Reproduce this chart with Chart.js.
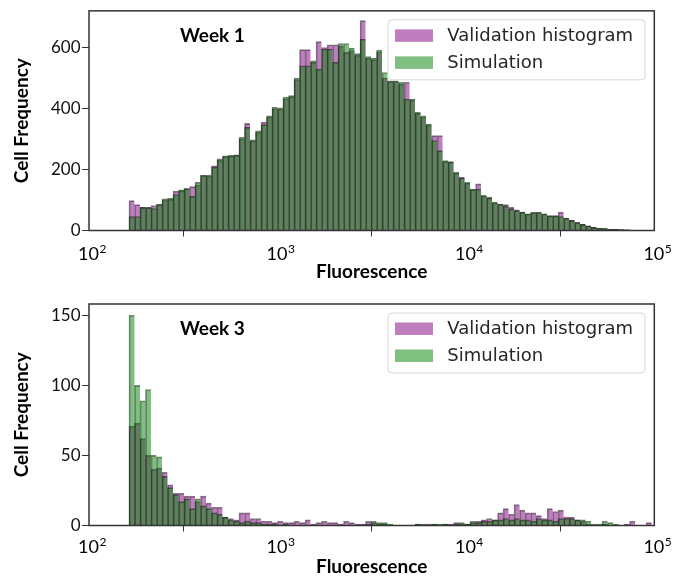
<!DOCTYPE html>
<html><head><meta charset="utf-8">
<script src="https://cdn.jsdelivr.net/npm/chart.js@4.4.1/dist/chart.umd.min.js"></script>
<style>
html,body{margin:0;padding:0;background:#fff;width:682px;height:581px;overflow:hidden;}
.wrap{position:absolute;left:0;width:682px;}
canvas{display:block;}
</style></head><body>
<div class="wrap" style="top:0;height:290px"><canvas id="c1" width="682" height="290"></canvas></div>
<div class="wrap" style="top:290px;height:291px"><canvas id="c2" width="682" height="291"></canvas></div>
<script>
// ---- data ----
const binLowEdge = 163;        // fluorescence at lower edge of first histogram bin
const binsPerDecade = 34.25;   // log-spaced bins
const binCount = 95;
const xTickValues = [100, 1000, 10000, 100000];
const xTickExponents = ['2', '3', '4', '5'];
const seriesNames = ['Validation histogram', 'Simulation'];
const panelTitles = ['Week 1', 'Week 3'];
const week1YTicks = [0, 200, 400, 600];
const week3YTicks = [0, 50, 100, 150];

const week1Validation = [98,85,76,75,82,85,100,102,129,130,
  136,144,150,180,178,212,230,242,244,246,
  300,351,294,322,355,372,400,398,432,438,
  495,593,593,551,619,600,609,609,605,584,
  590,575,688,565,560,585,500,488,488,480,
  486,428,385,372,346,311,311,226,224,189,
  175,155,134,153,113,109,91,86,85,76,
  68,60,54,58,59,54,48,48,60,40,
  33,26,20,15,10,7,6,4,4,3,
  2,0,0,0,0];
const week1Simulation = [46,46,76,76,72,86,104,106,118,133,
  138,112,158,182,182,208,235,245,246,248,
  305,338,297,327,347,376,404,402,437,442,
  500,540,540,556,529,595,595,551,613,613,
  598,580,627,570,565,591,518,491,491,486,
  431,431,387,376,349,295,262,229,226,191,
  172,158,136,136,115,107,93,87,80,71,
  65,60,55,60,60,55,49,49,46,41,
  33,27,20,15,11,7,7,4,4,3,
  2,1,0,0,0];
const week3Validation = [71,73,62,50,40,41,38,29,23,23,
  21,21,17,21,16,13,13,6,5,4,
  9,9,5,5,3,3,2,3,2,2,
  3,2,4,1,2,3,2,2,1,3,
  2,1,1,3,2,1,1,0,0,0,
  0,0,1,0,1,1,0,1,1,2,
  1,1,2,3,4,5,4,9,12,8,
  15,11,9,9,7,5,12,10,11,6,
  6,4,3,1,0,0,1,0,0,0,
  1,3,0,0,2];
const week3Simulation = [150,100,89,97,50,49,35,27,22,17,
  19,12,19,14,12,9,8,6,4,3,
  2,3,2,2,1,1,1,0,1,0,
  0,0,0,0,0,0,0,0,0,0,
  0,0,0,1,3,2,2,1,0,0,
  0,0,1,1,0,1,1,1,0,1,
  2,1,3,2,3,3,4,4,5,4,
  5,4,4,3,5,4,4,3,5,5,
  5,4,4,3,1,1,3,2,1,0,
  0,0,0,0,0];

// bin centres (fluorescence values) of the log-spaced histogram
const binCenters = Array.from({length: binCount}, (_, i) => binLowEdge * Math.pow(10, (i + 0.5) / binsPerDecade));

const FONT = 'Lato, "DejaVu Sans", sans-serif';

const decor = {
  id: 'decor',
  afterDraw(chart, args, o) {
    const {ctx, chartArea: a, scales} = chart;
    ctx.save();
    // frame (spines)
    ctx.strokeStyle = '#333';
    ctx.lineWidth = 1.5;
    ctx.strokeRect(a.left, a.top, a.right - a.left, a.bottom - a.top);
    // panel title
    ctx.fillStyle = '#000';
    ctx.font = 'bold 19px ' + FONT;
    ctx.textAlign = 'left';
    ctx.textBaseline = 'middle';
    ctx.fillText(o.title, a.left + 91, a.top + 25);
    // legend box
    const bx = a.right - 266.3, by = a.top + 9, bw = 257, bh = 60, r = 4;
    ctx.beginPath();
    ctx.moveTo(bx + r, by);
    ctx.arcTo(bx + bw, by, bx + bw, by + bh, r);
    ctx.arcTo(bx + bw, by + bh, bx, by + bh, r);
    ctx.arcTo(bx, by + bh, bx, by, r);
    ctx.arcTo(bx, by, bx + bw, by, r);
    ctx.closePath();
    ctx.fillStyle = 'rgba(255,255,255,0.8)';
    ctx.fill();
    ctx.strokeStyle = '#d6d6d6';
    ctx.lineWidth = 1;
    ctx.stroke();
    const items = chart.data.datasets;
    items.forEach((ds, k) => {
      const sy = a.top + 18.5 + k * 27;
      ctx.fillStyle = ds.backgroundColor;
      ctx.fillRect(bx + 7, sy, 38, 12.5);
      ctx.fillStyle = '#262626';
      ctx.font = '18px "DejaVu Sans", sans-serif';
      ctx.textBaseline = 'middle';
      ctx.fillText(ds.label, bx + 59.3, sy + 6.5);
    });
    // x tick labels 10^n
    const xs = scales.x;
    xTickValues.forEach((v, k) => {
      const px = xs.getPixelForValue(v);
      ctx.font = '18px ' + FONT;
      const w1 = ctx.measureText('10').width;
      ctx.font = '12px ' + FONT;
      const w2 = ctx.measureText(xTickExponents[k]).width;
      const x0 = px + 3 - (w1 + w2) / 2;
      const base = a.bottom + o.tickBase;
      ctx.fillStyle = '#000';
      ctx.textAlign = 'left';
      ctx.textBaseline = 'alphabetic';
      ctx.font = '18px ' + FONT;
      ctx.fillText('10', x0, base);
      ctx.font = '12px ' + FONT;
      ctx.fillText(xTickExponents[k], x0 + w1 + 0.5, base - 6.5);
    });
    ctx.restore();
  }
};

function makeChart(id, canvasH, topPad, bottomY, yMax, yTicks, validation, simulation, title, xTitlePad, tickBase) {
  const edge = 'rgba(0,0,0,0.5)';
  const bw = {left: 1, top: 1, right: 0, bottom: 0};
  return new Chart(document.getElementById(id), {
    type: 'bar',
    data: {
      datasets: [
        {label: seriesNames[0], data: binCenters.map((x, i) => ({x: x, y: validation[i]})),
         backgroundColor: 'rgba(128,0,128,0.5)', borderColor: edge, borderWidth: bw, order: 1},
        {label: seriesNames[1], data: binCenters.map((x, i) => ({x: x, y: simulation[i]})),
         backgroundColor: 'rgba(0,128,0,0.5)', borderColor: edge, borderWidth: bw, order: 0}
      ]
    },
    options: {
      responsive: false, animation: false, devicePixelRatio: 1,
      layout: {padding: {left: 0, right: 27.7, top: topPad, bottom: 0}},
      datasets: {bar: {grouped: false, barPercentage: 1, categoryPercentage: 1, borderSkipped: false}},
      plugins: {legend: {display: false}, tooltip: {enabled: false},
        decor: {title: title, tickBase: tickBase}},
      scales: {
        x: {
          type: 'logarithmic', min: 100, max: 100000,
          afterBuildTicks: s => { s.ticks = xTickValues.map(v => ({value: v, major: true})); },
          afterFit: s => { s.height = canvasH - bottomY; },
          ticks: {display: false},
          grid: {display: true, drawOnChartArea: false, drawTicks: true, tickLength: 6, color: '#333', lineWidth: 1},
          border: {display: false},
          title: {display: true, text: 'Fluorescence', color: '#000',
            font: {family: FONT, size: 19, weight: 'bold', lineHeight: 1.2},
            padding: {top: 0, bottom: xTitlePad}}
        },
        y: {
          min: 0, max: yMax,
          afterBuildTicks: s => { s.ticks = yTicks.map(v => ({value: v})); },
          afterFit: s => { s.width = 89; },
          ticks: {font: {family: FONT, size: 17, lineHeight: 1.1}, color: '#111', padding: 1.5},
          grid: {display: true, drawOnChartArea: false, drawTicks: true, tickLength: 7, color: '#333', lineWidth: 1},
          border: {display: false},
          title: {display: true, text: 'Cell Frequency', color: '#000',
            font: {family: FONT, size: 19, weight: 'bold', lineHeight: 1.2},
            padding: {top: 10.6, bottom: 0}}
        }
      }
    },
    plugins: [decor]
  });
}

function render() {
  makeChart('c1', 290, 10, 230.5, 720, week1YTicks, week1Validation, week1Simulation, panelTitles[0], 6.6, 29);
  makeChart('c2', 291, 14, 235.5, 158, week3YTicks, week3Validation, week3Simulation, panelTitles[1], 2.6, 27.2);
}
Promise.all([
  document.fonts.load('bold 19px Lato'),
  document.fonts.load('18px Lato'),
  document.fonts.load('18px "DejaVu Sans"')
]).then(render, render);
</script>
</body></html>
